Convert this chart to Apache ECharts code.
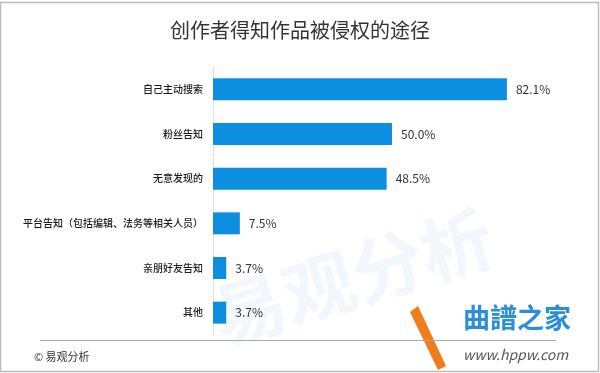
<!DOCTYPE html>
<html><head><meta charset="utf-8">
<script src="https://cdn.jsdelivr.net/npm/echarts@6/dist/echarts.min.js"></script>
<style>html,body{margin:0;padding:0;background:#fff}#c{width:600px;height:373px}</style>
</head><body><div id="c"></div>
<script>
const categories = ['自己主动搜索','粉丝告知','无意发现的','平台告知（包括编辑、法务等相关人员）','亲朋好友告知','其他'];
const values = [82.1, 50.0, 48.5, 7.5, 3.7, 3.7];
const titleText = '创作者得知作品被侵权的途径';
const sourceText = '© 易观分析';

const chart = echarts.init(document.getElementById('c'));
const font = '"Noto Sans CJK SC", "Noto Sans", sans-serif';
chart.setOption({
  animation: false,
  title: {text: titleText, left: 'center', top: 15, textStyle: {fontSize: 20, fontWeight: 'normal', color: '#333', fontFamily: font}},
  grid: {left: 213, top: 67, width: 358, height: 268},
  xAxis: {type: 'value', min: 0, max: 100, show: false},
  yAxis: {type: 'category', data: categories, inverse: true,
    axisLine: {show: true, lineStyle: {color: '#dde3ea', width: 1}},
    axisTick: {show: false},
    axisLabel: {color: '#1a1a1a', fontSize: 10, fontWeight: 500, fontFamily: font, margin: 10}},
  series: [{type: 'bar', data: values, barWidth: 22, itemStyle: {color: '#0c8fe0'},
    label: {show: true, position: 'right', distance: 9, color: '#333', fontSize: 12, fontFamily: font,
      formatter: p => p.value.toFixed(1) + '%'}}],
  graphic: [
    {type: 'rect', shape: {x: 0.5, y: 2.5, width: 598, height: 369}, style: {fill: 'none', stroke: '#bbb', lineWidth: 1.5}, silent: true, z: 100},
    {type: 'text', left: 205, top: 200, rotation: 0.3, style: {text: '易观分析', fontSize: 72, fill: 'rgba(120,180,230,0.10)', fontFamily: font, fontWeight: 'bold'}, z: -1},
    {type: 'rect', z: 50, shape: {x: 40, y: 340, width: 516, height: 1}, style: {fill: '#aaa'}},
    {type: 'text', left: 34, top: 351, style: {text: sourceText, fontSize: 11, fill: '#333', fontFamily: font}},
    {type: 'polygon', shape: {points: [[410, 312], [418, 306], [446, 366], [438, 370]]}, style: {fill: '#f07c1c'}},
    {type: 'text', left: 463, top: 304, style: {text: '曲譜之家', fontSize: 27, fill: '#2a8fd6', fontFamily: font, fontWeight: 'bold'}},
    {type: 'text', left: 463, top: 348, style: {text: 'www.hppw.com', fontSize: 14, fill: '#555', fontFamily: font, fontStyle: 'italic'}}
  ]
});
</script></body></html>
